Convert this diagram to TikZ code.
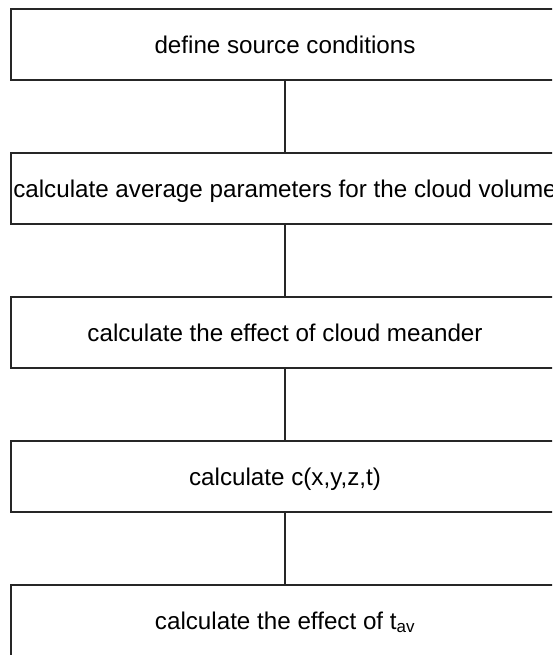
\documentclass[tikz,border=0pt]{standalone}
\usepackage{fontspec}
\setmainfont{Liberation Sans}
\begin{document}
\begin{tikzpicture}[x=1pt,y=1pt,
  stepbox/.style={draw=black!85, line width=1.2pt, rectangle, minimum width=548pt, minimum height=71pt,
    inner sep=0pt, align=center, font=\fontsize{24.2}{29}\selectfont, text height=17.3pt, text depth=0pt},
  link/.style={draw=black!85, line width=1.2pt}]
\useasboundingbox (0,0) rectangle (552,655);
\clip (0,0) rectangle (552,655);
\fill[white] (0,0) rectangle (552,655);
\node[stepbox] (b1) at (285,610.5) {define source conditions};
\node[stepbox] (b2) at (285,466.5) {calculate average parameters for the cloud volume};
\node[stepbox] (b3) at (285,322.5) {calculate the effect of cloud meander};
\node[stepbox] (b4) at (285,178.5) {calculate c(x,y,z,t)};
\node[stepbox] (b5) at (285,34.5) {calculate the effect of t\textsubscript{av}};
\draw[link] (b1) -- (b2);
\draw[link] (b2) -- (b3);
\draw[link] (b3) -- (b4);
\draw[link] (b4) -- (b5);
\end{tikzpicture}
\end{document}
